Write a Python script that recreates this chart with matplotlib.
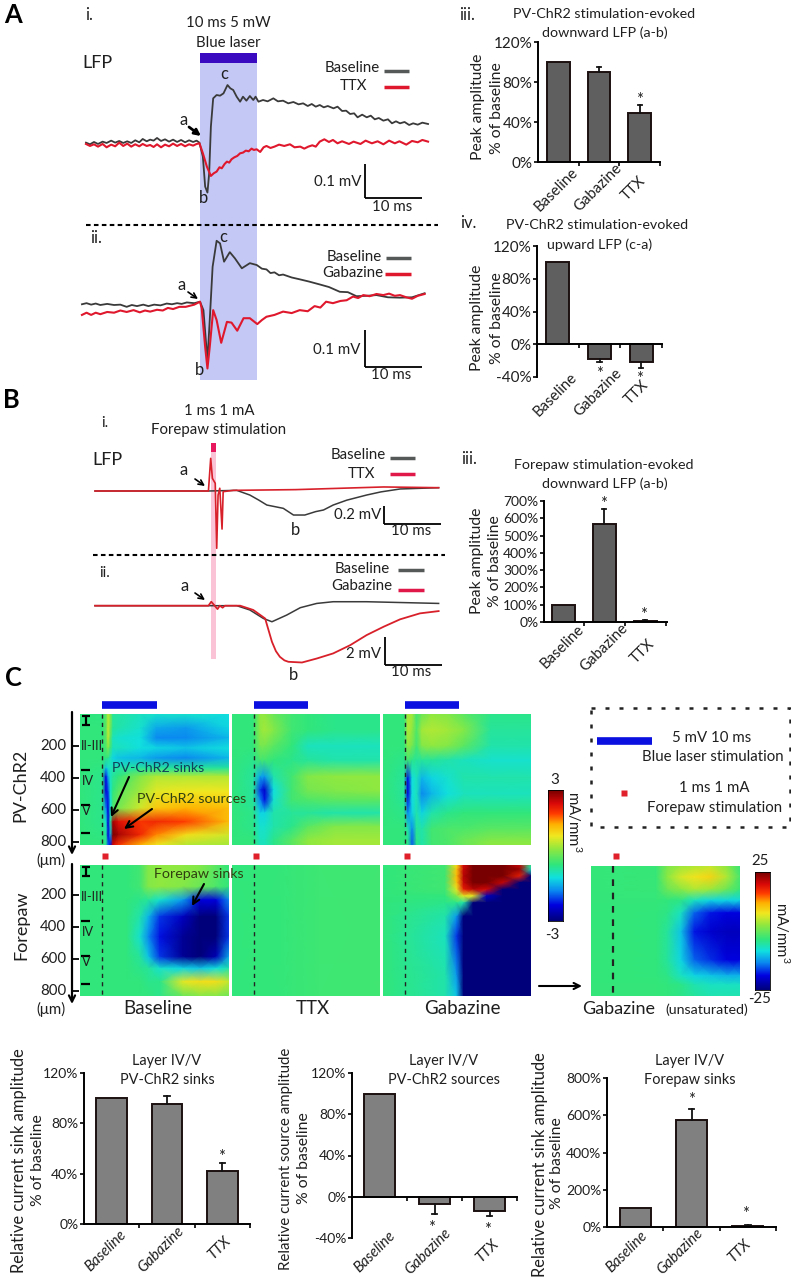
import numpy as np
import matplotlib
matplotlib.use("Agg")
import matplotlib.pyplot as plt
from matplotlib.colors import LinearSegmentedColormap

plt.rcParams['font.family'] = ['Lato', 'DejaVu Sans']
plt.rcParams['mathtext.default'] = 'regular'

W, H = 791, 1280

# ---- LFP traces, time in ms after stimulus onset, amplitude in mV
ai_t_base = [-19.9,-19.2,-18.5,-17.8,-17,-16.3,-15.5,-14.8,-14.1,-13.4,-12.7,-12,-11.3,-10.6,-10,-9.3,-8.7,-8.1,-7.5,-6.8,-6.1,-5.4,-4.7,-4,-3.3,-2.6,-1.9,-1.2,-0.6,-0.1,0.5,0.9,1.3,1.6,1.9,2.3,2.9,3.5,4.1,4.8,5.3,5.8,6.4,7,7.5,8.1,8.7,9.3,9.7,10.2,11,11.8,12.8,13.6,14.5,15.4,16.3,17.2,18,18.8,19.5,20.2,20.9,21.6,22.3,23.3,24,24.8,25.5,26.2,26.9,27.5,28.3,29.1,29.8,30.5,31.2,32,32.8,33.5,34.2,34.9,35.7,36.5,37.2,38,38.8,39.8]
ai_v_base = [0.002,-0.003,0.004,-0.002,0.005,0.001,0.008,0.002,0.007,0.001,0.006,0.001,0.009,0.003,0.013,0.006,0.011,0.008,0.016,0.007,0.012,0.005,0.011,0.004,0.01,0.003,0.009,0.004,0.008,0.002,-0.04,-0.13,-0.148,-0.09,0.05,0.135,0.145,0.143,0.15,0.175,0.165,0.16,0.14,0.125,0.14,0.128,0.142,0.13,0.14,0.125,0.13,0.126,0.135,0.126,0.128,0.12,0.124,0.117,0.12,0.112,0.118,0.11,0.115,0.108,0.112,0.105,0.11,0.097,0.098,0.088,0.09,0.078,0.086,0.078,0.083,0.072,0.076,0.068,0.072,0.06,0.066,0.06,0.064,0.055,0.06,0.056,0.062,0.058]
ai_t_red = [-19.9,-19.2,-18.5,-17.8,-17,-16.3,-15.5,-14.8,-14.1,-13.4,-12.7,-12,-11.3,-10.6,-10,-9.3,-8.7,-8.1,-7.5,-6.8,-6.1,-5.4,-4.7,-4,-3.3,-2.6,-1.9,-1.2,-0.6,-0.1,0.5,1.2,1.9,2.4,2.9,3.4,3.8,4.3,4.7,5.1,5.5,6,6.5,7,7.5,8,8.5,9,9.4,9.9,10.5,11.1,11.6,12.3,13,13.8,14.7,15.7,16.5,17.5,18.2,18.9,19.6,20.2,20.9,21.7,22.5,23.2,24,24.8,26,26.8,28,28.9,30,31,32,33,34,34.8,36,37,38,38.8,39.8]
ai_v_red = [-0.002,-0.008,-0.003,-0.01,-0.002,-0.012,-0.004,-0.009,0.002,-0.008,-0.001,-0.01,-0.003,-0.009,-0.002,-0.008,-0.005,-0.011,-0.003,-0.012,-0.004,-0.009,-0.001,-0.008,-0.002,-0.009,-0.003,-0.007,-0.002,0.0,-0.03,-0.07,-0.098,-0.09,-0.085,-0.072,-0.075,-0.062,-0.055,-0.058,-0.048,-0.042,-0.038,-0.03,-0.028,-0.022,-0.024,-0.016,-0.02,-0.018,-0.026,-0.012,-0.008,-0.014,-0.01,-0.004,-0.008,-0.003,-0.012,-0.01,-0.016,-0.01,-0.006,-0.01,0.005,0.012,0.004,0.01,0.0,0.006,-0.002,0.005,-0.002,0.008,0.0,0.006,-0.003,0.008,0.0,0.006,-0.004,0.007,0.003,0.01,0.005]

aii_t_base = [-20.6,-19.8,-19,-18.2,-17.4,-16.2,-15,-13.9,-12.8,-11.9,-11,-9.9,-9,-8,-6.9,-5.8,-4.9,-4,-3.2,-2.3,-1,0,0.6,1.3,1.7,2.2,2.9,3.5,4.2,5.2,6.1,7.3,8.7,9.9,10.8,11.6,12.3,13,13.8,14.5,16,17.4,19,20.9,22.5,24.4,25.8,27.3,29,30.8,32.8,34.9,37,39.2]
aii_v_base = [-0.007,-0.004,-0.008,-0.005,-0.009,-0.006,-0.009,-0.008,-0.014,-0.009,-0.012,-0.008,-0.012,-0.008,-0.01,-0.005,-0.007,-0.004,-0.006,-0.002,-0.004,0,-0.023,-0.16,-0.05,0.095,0.166,0.159,0.109,0.135,0.118,0.091,0.105,0.1,0.09,0.088,0.078,0.08,0.072,0.074,0.066,0.061,0.055,0.047,0.04,0.027,0.026,0.015,0.016,0.018,0.012,0.011,0.012,0.023]
aii_t_red = [-20.6,-19.8,-19,-18.2,-17.4,-16.2,-15,-13.9,-12.8,-11.6,-10.5,-9.6,-8.7,-7.5,-6.5,-5.6,-4.7,-3.6,-2.5,-1,0,0.3,0.9,1.3,1.7,2.3,2.9,3.7,4.7,5.5,6.5,7.6,8.7,10,10.8,11.6,13,14.5,16,17.4,18.8,20,21,22,23.2,24.5,25.6,26.7,27.6,28.5,29.6,30.8,32,33,34,34.9,36,37,38,39.2]
aii_v_red = [-0.036,-0.03,-0.036,-0.03,-0.034,-0.028,-0.03,-0.024,-0.028,-0.023,-0.029,-0.024,-0.027,-0.022,-0.024,-0.017,-0.02,-0.014,-0.014,-0.008,0,-0.018,-0.123,-0.182,-0.123,-0.023,-0.05,-0.112,-0.055,-0.057,-0.079,-0.045,-0.045,-0.061,-0.05,-0.041,-0.036,-0.027,-0.031,-0.023,-0.026,-0.012,-0.016,0,-0.004,0.002,0.004,0.014,0.01,0.018,0.015,0.021,0.018,0.022,0.016,0.018,0.012,0.008,0.016,0.021]

bi_t_base = [-20.4,-0.4,4.6,6.9,8.5,9.9,12.8,14.6,16.6,18.5,19.9,21.6,24,27.5,30,33.4,40.2]
bi_v_base = [0,0,0.007,-0.044,-0.1,-0.153,-0.189,-0.262,-0.262,-0.225,-0.207,-0.153,-0.1,-0.044,-0.01,0.022,0.036]
bi_t_red = [-20.4,-0.4,0,0.3,0.8,1.06,1.3,1.6,2,2.2,4,15,30.5,40.2]
bi_v_red = [0,0,0.356,0.138,0.084,-0.625,-0.044,0.03,-0.415,-0.007,0.007,0.015,0.044,0.036]

bii_t_base = [-20.4,4.6,6.9,9.3,10.8,13.4,15.8,18.7,21.6,27.5,40.2]
bii_v_base = [0,0,-0.3,-0.9,-1.13,-0.66,-0.14,0.16,0.28,0.28,0.16]
bii_t_red = [-20.4,-0.4,0.1,0.6,1.2,1.6,2.1,2.5,5.2,7.5,9.6,10.8,11.5,12.2,13,13.7,16.1,18.7,21.6,24.6,27.5,30.5,33.4,36.9,40.2]
bii_v_red = [0,0,0.28,0.05,-0.24,0,-0.14,0,0,-0.3,-0.9,-2.54,-3.2,-3.6,-3.85,-3.95,-4,-3.72,-3.36,-2.78,-2.07,-1.48,-0.96,-0.54,-0.38]

# ---- bar values
categories = ['Baseline', 'Gabazine', 'TTX']
a3_vals, a3_err = [100, 90, 49], [0, 5.5, 8]
a4_vals, a4_err = [100, -18, -22], [0, -4, -7]
b3_vals, b3_err = [100, 565, 8], [0, 90, 2]
c1_vals, c1_err = [100, 95, 42], [0, 6.5, 6.5]
c2_vals, c2_err = [100, -7, -14], [0, -10, -5]
c3_vals, c3_err = [100, 575, 8], [0, 60, 3]

# ---- current source density maps, mA/mm3
pv_base_t = [-4.1,0,.7,1.1,1.5,2,3,7,10,15.5,23.4]
pv_base_d = [0,88,150,213,276,339,391,485,590,674,757,820]
pv_base = [[-.4,-.45,-.1,.5,.2,-.6,-.65,-.8,-.9,-.9,-1],
           [-.4,-.4,-.1,.6,.1,-.6,-.7,-.9,-1.4,-1.5,-1.1],
           [-.4,-.4,-.1,.6,-.1,-.8,-.9,-1,-1.6,-1.6,-1.3],
           [-.4,-.4,-.2,.2,-.3,-.8,-.8,-1,-1.1,-1.2,-1],
           [-.4,-.4,-.4,-.5,-.8,-1.1,-1.2,-1.3,-1.5,-1.6,-1.3],
           [-.4,-.45,-1.2,-.9,-.8,-.7,-.7,-.6,-.6,-.6,-.6],
           [-.4,-.5,-2.2,-1.4,-.8,-.6,-.4,.2,.5,.5,.5],
           [-.4,-.5,-2.3,-2,-.9,-.4,-.1,.4,.8,.9,.9],
           [-.4,-.5,-1.6,-2.3,-1,-.2,.1,.7,1.2,1.4,1.3],
           [-.4,-.5,-.9,-2.3,-.6,2.7,2.3,2,2.1,1.9,1.3],
           [-.4,-.45,-.6,-2.3,-1.4,3,2.7,2.1,1.6,1,.7],
           [-.4,-.4,-.5,-1.8,-2.3,2.4,2,1.4,.9,.5,.4]]

pv_ttx_t = [-4,-.1,1.2,2,3.7,7,10,15,23.3]
pv_ttx_d = [0,100,200,290,391,475,540,620,705,790,820]
pv_ttx = [[-.4,-.4,.3,.3,0,-.3,-.4,-.5,-.5],
          [-.4,-.4,.3,.4,.2,-.3,-.4,-.5,-.5],
          [-.4,-.4,.1,.1,-.1,-.4,-.8,-.8,-.8],
          [-.4,-.5,-.3,-.3,-.4,-.5,-.6,-.7,-.7],
          [-.4,-.6,-1.4,-1.5,-.7,-.3,.2,.3,.3],
          [-.4,-.6,-2,-2.4,-1,-.3,.1,.2,.3],
          [-.4,-.6,-1.6,-2.2,-.9,-.3,-.2,-.1,-.1],
          [-.4,-.5,-1.1,-1.1,-.7,-.6,-.6,-.7,-.7],
          [-.4,-.5,-.9,-.9,-.7,-.5,-.1,.2,.2],
          [-.4,-.4,-.8,-.8,-.5,-.1,.3,.4,.4],
          [-.4,-.4,-.8,-.8,-.5,-.1,.3,.4,.4]]

pv_gbz_t = [-4,-.1,.6,1.4,2.2,3.2,5,8,11,16,23.4]
pv_gbz_d = [0,100,200,290,400,500,620,720,790,820]
pv_gbz = [[-.4,-.4,.4,.4,-.3,0,.3,.2,-.1,-.5,-.5],
          [-.4,-.4,.5,.3,-.2,.4,.5,.4,.2,-.6,-.6],
          [-.4,-.4,.3,.1,-.3,.2,.3,.2,-.1,-.7,-.7],
          [-.4,-.5,-.3,-.5,-.6,-.6,-.6,-.7,-.8,-.9,-.9],
          [-.4,-.6,-2.2,-1,-.8,-1.3,-1.1,-.9,-.7,-.7,-.7],
          [-.4,-.6,-2.3,-1,-.8,-1.6,-1.3,-1,-.8,-.8,-.8],
          [-.4,-.5,-1.6,-1.1,-.7,-1.1,-.7,-.5,-.4,-.4,-.4],
          [-.4,-.4,-.7,-1.6,-.6,-.7,-.3,-.2,-.2,-.1,-.1],
          [-.4,-.4,-.5,-1.8,-.5,-.7,-.3,-.2,0,.2,.2],
          [-.4,-.4,-.5,-1.8,-.5,-.7,-.3,-.2,0,.3,.3]]

fp_base_t = [-4.1,4.5,6.9,8.5,10.6,14.9,18,21,23.4]
fp_base_d = [0,137,222,327,454,581,655,739,830]
fp_base = [[-.4,-.4,-.3,.2,.3,.3,.2,-.1,-.4],
           [-.4,-.4,-.3,.2,.3,.2,0,-.2,-.4],
           [-.4,-.4,-.5,-.6,-.9,-1.5,-2.3,-2.3,-1.6],
           [-.4,-.4,-.7,-1.3,-2,-2.5,-3,-3,-2],
           [-.4,-.4,-.9,-1.6,-2.2,-2.8,-3,-3,-2],
           [-.4,-.4,-.6,-1.2,-2,-2.8,-3,-2.6,-1.4],
           [-.4,-.4,-.5,-.6,-.9,-1.1,-1.2,-1,-.7],
           [-.4,-.4,-.4,-.5,-.5,.8,1,1,.6],
           [-.4,-.4,-.4,-.4,-.5,0,.2,.2,0]]

fp_ttx_t = [-4,5,12,23.3]
fp_ttx_d = [0,830]
fp_ttx = [[-.42,-.38,-.32,-.3],
          [-.42,-.38,-.32,-.3]]

fp_gbz_t = [-4,7.5,9.6,10.9,12.7,15.2,18.2,21.3,23.4]
fp_gbz_d = [0,28,70,112,155,197,240,325,452,700,830]
fp_gbz = [[-.4,-.3,1,2.4,3,3,3,2.5,-.5],
          [-.4,-.3,1.2,2.5,3,3,3,2.8,-.8],
          [-.4,-.3,1.3,2.6,3,3,3,2.2,-3],
          [-.4,-.3,1.2,2.5,3,3,2.5,-3,-3],
          [-.4,-.3,.8,2.2,2.6,2.4,-3,-3,-3],
          [-.4,-.4,.2,.8,.8,-2.5,-3,-3,-3],
          [-.4,-.5,-.5,-.7,-3,-3,-3,-3,-3],
          [-.4,-.7,-1.5,-3,-3,-3,-3,-3,-3],
          [-.4,-.8,-2,-3,-3,-3,-3,-3,-3],
          [-.4,-.7,-1.5,-3,-3,-3,-3,-3,-3],
          [-.4,-.7,-1.2,-3,-3,-3,-3,-3,-3]]

fp_uns_t = [-4,8,10,12.5,15,18,21,23.4]
fp_uns_d = [0,70,150,220,300,420,600,700,760,830]
fp_uns = [[-3.3,-3,1,3,4,5,2,-3],
          [-3.3,-3,2,6,8,9,4,-2],
          [-3.3,-3,0,2,4,3,0,-3],
          [-3.3,-3.3,-3.5,-4,-7,-9,-9,-9],
          [-3.3,-3.5,-4,-7,-15,-18,-19,-19],
          [-3.3,-3.5,-5,-10,-18,-20,-21,-21],
          [-3.3,-3.5,-5,-9,-15,-17,-19,-19],
          [-3.3,-3.5,-4,-7,-9,-10,-11,-11],
          [-3.3,-3.3,-3.5,-4,-6,-7,-7,-7],
          [-3.3,-3.3,-3.5,-4,-5,-6,-6,-6]]

BLACK_TR = '#3a3a3a'
RED_TR = '#e0182d'
BLUE = '#0a10e0'
RED_MK = '#e0202a'

# the reference's rainbow, greener in the middle than plain jet
csd_cmap = LinearSegmentedColormap.from_list('csd', [
    (0.0, '#00007a'), (0.12, '#0000e0'), (0.23, '#0a88f0'), (0.33, '#10e0e0'),
    (0.43, '#30e67c'), (0.55, '#90e840'), (0.65, '#f0e820'), (0.74, '#ffb000'),
    (0.82, '#ff3c00'), (0.9, '#d80808'), (1.0, '#780000')])

fig = plt.figure(figsize=(W / 100, H / 100), dpi=100)


def px_axes(x0, y0, x1, y1, **kw):
    return fig.add_axes([x0 / W, 1 - y1 / H, (x1 - x0) / W, (y1 - y0) / H], **kw)


# overlay in picture pixels, for labels and annotation arrows
ov = px_axes(0, 0, W, H, zorder=10)
ov.set_xlim(0, W)
ov.set_ylim(H, 0)
ov.axis('off')
ov.patch.set_alpha(0)


def label(x, y, s, size=10, **kw):
    kw.setdefault('ha', 'center')
    kw.setdefault('va', 'center')
    kw.setdefault('color', '#1f1f1f')
    ov.text(x, y, s, fontsize=size * 1.08, **kw)


def star(x, y):
    # the asterisk glyph sits high in its box
    label(x, y + 4, '*', 11)


def segment(x0, y0, x1, y1, color='black', lw=1.3, **kw):
    ov.plot([x0, x1], [y0, y1], color=color, lw=lw, solid_capstyle='butt', **kw)


def arrow(x0, y0, x1, y1, lw=1.2, scale=9):
    ov.annotate('', xy=(x1, y1), xytext=(x0, y0),
                arrowprops=dict(arrowstyle='->', color='black', lw=lw, mutation_scale=scale,
                                shrinkA=0, shrinkB=0))


def trace_axes(x_zero, y_zero, px_ms, px_mv, x0, x1, y0, y1):
    # time zero sits at x_zero, zero amplitude at y_zero
    ax = px_axes(x0, y0, x1, y1)
    ax.set_xlim((x0 - x_zero) / px_ms, (x1 - x_zero) / px_ms)
    ax.set_ylim((y_zero - y1) / px_mv, (y_zero - y0) / px_mv)
    ax.axis('off')
    ax.patch.set_alpha(0)
    return ax


# Panel A traces
ax = trace_axes(200, 143.3, 5.73, 333, 70, 445, 45, 215)
ax.plot(ai_t_base, ai_v_base, color=BLACK_TR, lw=1.3)
ax.plot(ai_t_red, ai_v_red, color=RED_TR, lw=1.5)
ax = trace_axes(200, 301.7, 5.73, 367, 70, 445, 225, 385)
ax.plot(aii_t_base, aii_v_base, color=BLACK_TR, lw=1.3)
ax.plot(aii_t_red, aii_v_red, color=RED_TR, lw=1.5)

# laser shading behind the traces
ov_back = px_axes(0, 0, W, H, zorder=-1)
ov_back.set_xlim(0, W)
ov_back.set_ylim(H, 0)
ov_back.axis('off')
ov_back.fill_between([200, 257], 63, 380, color='#c3c8f4', lw=0)
ov_back.fill_between([200, 257], 53, 63, color='#3a0ac0', lw=0)
ov_back.fill_between([211, 216], 443, 659, color='#fbc4d6', lw=0)
ov_back.fill_between([211, 216], 443, 452, color='#e8185e', lw=0)

# Panel B traces
ax = trace_axes(210.7, 491, 5.67, 91.7, 85, 445, 445, 555)
ax.plot(bi_t_base, bi_v_base, color=BLACK_TR, lw=1.1)
ax.plot(bi_t_red, bi_v_red, color='#d8202a', lw=1.2)
ax = trace_axes(210.7, 605.7, 5.67, 14.2, 85, 445, 580, 670)
ax.plot(bii_t_base, bii_v_base, color=BLACK_TR, lw=1.1)
ax.plot(bii_t_red, bii_v_red, color='#d8202a', lw=1.3)


def bar_panel(box, vals, errs, ylim, ticks, lim_x=(-0.5, 2.5), color='#5f5f5f', size=11):
    ax = px_axes(*box)
    xs = np.arange(len(categories))
    ax.bar(xs, vals, width=0.55, color=color, edgecolor='#1c1010', lw=1.4)
    for x, v, e in zip(xs, vals, errs):
        if e != 0:
            ax.plot([x, x], [v, v + e], color='#111111', lw=1.3)
            ax.plot([x - 0.05, x + 0.05], [v + e, v + e], color='#111111', lw=1.3)
    ax.set_xlim(*lim_x)
    ax.set_ylim(*ylim)
    ax.set_yticks(ticks)
    ax.set_yticklabels(['%d%%' % t for t in ticks], fontsize=size, color='#1f1f1f')
    ax.set_xticks(xs + 0.5)
    ax.set_xticklabels([])
    ax.spines[['top', 'right']].set_visible(False)
    ax.spines['bottom'].set_position(('data', 0))
    for s in ['left', 'bottom']:
        ax.spines[s].set_linewidth(1.4)
    ax.tick_params(length=3, width=1.2, pad=1, direction='out')
    ax.patch.set_alpha(0)
    return ax


# panel A/B bars
bar_panel((538, 42, 660, 162), a3_vals, a3_err, (0, 120), [0, 40, 80, 120])
bar_panel((537, 246, 662, 377), a4_vals, a4_err, (-40, 120), [-40, 0, 40, 80, 120])
bar_panel((544, 501, 667, 622), b3_vals, b3_err, (0, 700), list(range(0, 701, 100)), lim_x=(-0.475, 2.53), size=10)

# panel C bars
bar_panel((84, 1073, 250, 1224), c1_vals, c1_err, (0, 120), [0, 40, 80, 120], color='#808080', size=10)
bar_panel((352, 1073, 517, 1238), c2_vals, c2_err, (-40, 120), [-40, 0, 40, 80, 120], color='#808080', size=10)
bar_panel((607, 1078, 776, 1227), c3_vals, c3_err, (0, 800), [0, 200, 400, 600, 800], color='#808080', size=10)


def csd_map(box, t, d, z, vmax):
    ax = px_axes(*box)
    ax.pcolormesh(t, d, np.array(z), cmap=csd_cmap, vmin=-vmax, vmax=vmax, shading='gouraud', rasterized=True)
    ax.set_ylim(max(d), min(d))
    ax.set_xlim(min(t), max(t))
    ax.axis('off')
    return ax


csd_map((80, 714, 229, 845), pv_base_t, pv_base_d, pv_base, 3)
csd_map((232, 714, 380, 845), pv_ttx_t, pv_ttx_d, pv_ttx, 3)
csd_map((383, 714, 531, 845), pv_gbz_t, pv_gbz_d, pv_gbz, 3)
csd_map((80, 865, 229, 996), fp_base_t, fp_base_d, fp_base, 3)
csd_map((232, 865, 380, 996), fp_ttx_t, fp_ttx_d, fp_ttx, 3)
csd_map((383, 865, 531, 996), fp_gbz_t, fp_gbz_d, fp_gbz, 3)
csd_map((591, 866, 740, 996), fp_uns_t, fp_uns_d, fp_uns, 25)

# colour bars
for box in [(548, 790, 563, 921), (755, 872, 770, 990)]:
    cb = px_axes(*box)
    cb.imshow(np.linspace(1, 0, 256)[:, None], cmap=csd_cmap, aspect='auto')
    cb.set_xticks([])
    cb.set_yticks([])
    for s in cb.spines.values():
        s.set_linewidth(0.6)

# ---- overlay text, panel A
for x, y, s in [(13, 15, 'A'), (11, 400, 'B'), (13, 678, 'C')]:
    label(x, y, s, size=17, fontweight='bold', color='black')
label(89, 15, 'i.', 11)
label(228, 23, '10 ms 5 mW', 10)
label(228, 43, 'Blue laser', 10)
label(97, 63, 'LFP', 12)
label(352, 68, 'Baseline', 10)
label(353, 86, 'TTX', 10)
segment(384, 71, 409, 71, color='#555a58', lw=2.5)
segment(384, 87, 409, 87, color=RED_TR, lw=2.5)
label(224, 74, 'c', 11)
label(184, 120, 'a', 11)
label(204, 198, 'b', 11)
ov.annotate('', xy=(201, 136), xytext=(189, 127),
            arrowprops=dict(arrowstyle='-|>', color='black', lw=2, mutation_scale=9, shrinkA=0, shrinkB=0))
segment(365, 164, 365, 198)
segment(364.5, 198, 422, 198)
label(338, 182, '0.1 mV', 10)
label(392, 207, '10 ms', 10)
ov.plot([86, 438], [224.5, 224.5], color='black', lw=1.5, ls=(0, (2.2, 1.6)))
label(96, 238, 'ii.', 11)
label(223, 237, 'c', 11)
label(354, 257, 'Baseline', 10)
label(353, 273, 'Gabazine', 10)
segment(386, 258, 411, 258, color='#555a58', lw=2.5)
segment(385, 274, 411, 274, color=RED_TR, lw=2.5)
label(182, 285, 'a', 11)
arrow(188, 292, 198, 299)
label(199, 370, 'b', 11)
segment(365, 330, 365, 367)
segment(364.5, 367, 422, 367)
label(337, 350, '0.1 mV', 10)
label(391, 375, '10 ms', 10)

# panel A bars, titles and tick names
label(467, 15, 'iii.', 11)
label(604, 14, 'PV-ChR2 stimulation-evoked', 9.5)
label(605, 33, 'downward LFP (a-b)', 9.5)
label(478, 107, 'Peak amplitude', 10.5, rotation=90)
label(497, 108, '% of baseline', 10.5, rotation=90)
label(468, 223, 'iv.', 11)
label(597, 225, 'PV-ChR2 stimulation-evoked', 9.5)
label(600, 245, 'upward LFP (c-a)', 9.5)
label(477, 318, 'Peak amplitude', 10.5, rotation=90)
label(497, 318, '% of baseline', 10.5, rotation=90)
for (x, y), s in zip([(556, 190), (598, 188), (634, 188)], categories):
    label(x, y, s, 10, rotation=45)
for (x, y), s in zip([(555, 395), (598, 393), (637, 392)], categories):
    label(x, y, s, 10, rotation=45)
star(640, 96)
star(600, 370)
star(640, 375)

# panel B
label(105, 423, 'i.', 10)
label(219, 411, '1 ms 1 mA', 10)
label(219, 430, 'Forepaw stimulation', 10)
label(107, 460, 'LFP', 12)
label(184, 470, 'a', 11)
arrow(195, 479, 205, 486)
label(358, 455, 'Baseline', 10)
label(362, 474, 'TTX', 10)
segment(390, 458, 415, 458, color='#555a58', lw=2.5)
segment(390, 474, 415, 474, color='#e0184a', lw=2.5)
label(296, 530, 'b', 11)
label(358, 515, '0.2 mV', 10)
segment(384, 506, 384, 524)
segment(383.5, 524, 441, 524)
label(411, 531, '10 ms', 10)
ov.plot([93, 445], [554.5, 554.5], color='black', lw=1.5, ls=(0, (2.2, 1.6)))
label(105, 573, 'ii.', 10)
label(362, 569, 'Baseline', 10)
label(362, 586, 'Gabazine', 10)
segment(398, 570, 424, 570, color='#555a58', lw=2.5)
segment(398, 590, 424, 590, color='#e0184a', lw=2.5)
label(185, 586, 'a', 11)
arrow(195, 593, 205, 600)
label(293, 675, 'b', 11)
label(364, 654, '2 mV', 10)
segment(385, 637, 385, 665)
segment(384.5, 665, 442, 665)
label(411, 672, '10 ms', 10)
label(469, 459, 'iii.', 11)
label(604, 465, 'Forepaw stimulation-evoked', 9.5)
label(605, 484, 'downward LFP (a-b)', 9.5)
label(477, 561, 'Peak amplitude', 10.5, rotation=90)
label(495, 561, '% of baseline', 10.5, rotation=90)
for (x, y), s in zip([(562, 647), (604, 648), (643, 651)], categories):
    label(x, y, s, 10, rotation=45)
star(605, 500)
star(645, 611)

# panel C stimulus marks and dashed onset lines
for x0, x1 in [(102, 157), (253.5, 308), (404.5, 459)]:
    segment(x0, 705, x1, 705, color=BLUE, lw=5.5)
segment(597, 740.5, 652, 740.5, color=BLUE, lw=5.5)
for x, y in [(105, 856), (256, 856), (407, 856), (615.7, 856), (624, 793)]:
    ov.plot([x], [y], marker='s', ms=5, color=RED_MK, mec='none')
for x in [102, 253.5, 404.5]:
    for y0, y1 in [(714, 845), (865, 996)]:
        ov.plot([x, x], [y0, y1], color='#222222', lw=1.0, ls=(0, (3, 3)))
ov.plot([612.5, 612.5], [866, 996], color='#222222', lw=1.6, ls=(0, (3, 3)))

# legend box
ov.plot([591, 790, 790, 591, 591], [708, 708, 827, 827, 708], color='#222222', lw=1.8, ls=(0, (1.6, 4)), clip_on=False)
label(712, 738, '5 mV 10 ms', 10)
label(713, 757, 'Blue laser stimulation', 10)
label(714, 788, '1 ms 1 mA', 10)
label(715, 808, 'Forepaw stimulation', 10)

# depth axes
for y0, y1, ticks in [(712, 855, [746, 778, 810, 842]), (864, 1004, [895, 927, 959, 991])]:
    ov.annotate('', xy=(72, y1), xytext=(72, y0),
                arrowprops=dict(arrowstyle='->', color='black', lw=1.6, mutation_scale=11, shrinkA=0, shrinkB=0))
    for y, s in zip(ticks, ['200', '400', '600', '800']):
        label(53, y, s, 10)
        segment(72, y, 79, y, lw=1.3)
label(20, 785, 'PV-ChR2', 12, rotation=90)
label(21, 925, 'Forepaw', 12, rotation=90)
label(51, 860, '(μm)', 10)
label(51, 1009, '(μm)', 10)

# layer labels inside the maps
for y0 in [714, 865]:
    segment(82, y0 + 2, 90, y0 + 2, lw=1.6)
    segment(85.5, y0 + 2, 85.5, y0 + 11, lw=1.6)
    segment(82, y0 + 11, 90, y0 + 11, lw=1.6)
    label(92, y0 + 32, 'II-III', 8.5)
    segment(81, y0 + 56, 90, y0 + 56, lw=1.6)
    label(88, y0 + 67, 'IV', 8.5)
    segment(81, y0 + 91, 90, y0 + 91, lw=1.6)
    label(86, y0 + 97, 'V', 8.5)
    segment(81, y0 + 119, 90, y0 + 119, lw=1.6)

label(158, 768, 'PV-ChR2 sinks', 9.5, color='#10405a')
arrow(129, 777, 111, 817, lw=1.5, scale=12)
label(192, 799, 'PV-ChR2 sources', 9.5, color='#304010')
arrow(152, 809, 124, 829, lw=1.5, scale=12)
label(199, 874, 'Forepaw sinks', 9.5, color='#304010')
arrow(204, 884, 192, 906, lw=1.5, scale=12)

label(158, 1009, 'Baseline', 12.5)
label(313, 1009, 'TTX', 12.5)
label(462, 1009, 'Gabazine', 12.5)
label(582, 1009, 'Gabazine', 12, ha='left')
label(665, 1010, '(unsaturated)', 9.5, ha='left')
arrow(539, 986, 582, 986, lw=1.5, scale=11)

label(555, 780, '3', 10)
label(552, 935, '-3', 10)
label(574, 822, 'mA/mm$^3$', 10, rotation=270)
label(760, 861, '25', 10)
label(760, 999, '-25', 10)
label(782, 933, 'mA/mm$^3$', 10, rotation=270)

# bottom panels
label(167, 1061, 'Layer IV/V', 9.7)
label(167, 1080, 'PV-ChR2 sinks', 9.7)
label(19, 1161, 'Relative current sink amplitude', 11, rotation=90)
label(38, 1160, '% of baseline', 10.5, rotation=90)
for (x, y), s in zip([(106, 1251), (161, 1250), (219, 1248)], categories):
    label(x, y, s, 10, rotation=45, style='italic')
star(222, 1153)

label(444, 1061, 'Layer IV/V', 9.7)
label(444, 1080, 'PV-ChR2 sources', 9.7)
label(286, 1159, 'Relative current source amplitude', 10, rotation=90)
label(304, 1158, '% of baseline', 10.5, rotation=90)
for (x, y), s in zip([(375, 1252), (428, 1252), (487, 1251)], categories):
    label(x, y, s, 10, rotation=45, style='italic')
star(433, 1224)
star(489, 1226)

label(690, 1061, 'Layer IV/V', 9.7)
label(690, 1080, 'Forepaw sinks', 9.7)
label(540, 1165, 'Relative current sink amplitude', 11, rotation=90)
label(557, 1163, '% of baseline', 10.5, rotation=90)
for (x, y), s in zip([(627, 1252), (680, 1252), (739, 1251)], categories):
    label(x, y, s, 10, rotation=45, style='italic')
star(693, 1096)
star(747, 1210)

fig.savefig('out.png', dpi=100)
